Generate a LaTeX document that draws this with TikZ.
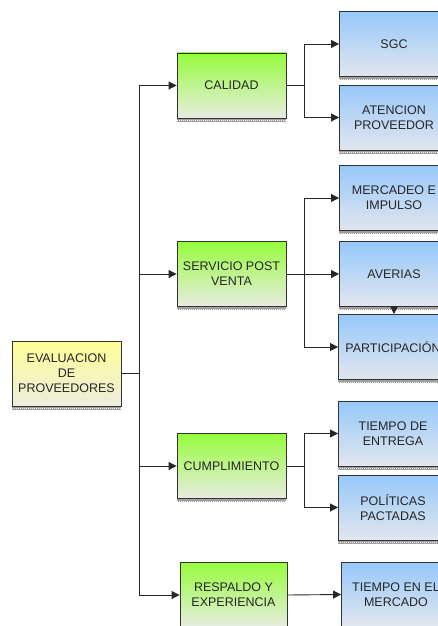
\documentclass[tikz,border=0pt]{standalone}
\usepackage{fontspec}
\setmainfont{Liberation Sans}
\usetikzlibrary{arrows.meta,math,positioning}

\definecolor{yeltop}{RGB}{255,255,150}
\definecolor{yelbot}{RGB}{236,236,222}
\definecolor{grntop}{RGB}{150,252,60}
\definecolor{grnbot}{RGB}{232,236,226}
\definecolor{blutop}{RGB}{150,200,250}
\definecolor{blubot}{RGB}{226,230,238}

\begin{document}
\begin{tikzpicture}[x=1pt,y=-1pt]

\tikzmath{
	\W = 109;
	\H = 65;
}

\tikzset{box/.style={
    draw=black!80, line width=0.9pt,
    minimum width=\W pt, minimum height=\H pt,
    align=center, inner sep=0pt,
    font=\fontsize{12.5}{15}\selectfont, text=black!85
  },
  rootbox/.style={box, top color=yeltop, bottom color=yelbot},
  mainbox/.style={box, top color=grntop, bottom color=grnbot},
  subbox/.style={box, top color=blutop, bottom color=blubot},
  conn/.style={draw=black!85, line width=0.9pt},
  arr/.style={conn, -{Triangle[length=8pt,width=8pt]}}
}

\useasboundingbox (0,0) rectangle (438,626);
\clip (0,0) rectangle (438,626);

% root
\node[rootbox] (eval) at (66.5,373.5) {EVALUACION\\DE\\PROVEEDORES};

% second level
\node[mainbox] (cal)  at (231.5,85.5) {CALIDAD};
\node[mainbox] (serv) at (231.5,274)  {SERVICIO POST\\VENTA};
\node[mainbox] (cump) at (231.5,466)  {CUMPLIMIENTO};
\node[mainbox, minimum width=107pt] (resp) at (233.5,595) {RESPALDO Y\\EXPERIENCIA};

% third level
\node[subbox] (sgc)  at (394,44)    {SGC};
\node[subbox] (aten) at (394,117.5) {ATENCION\\PROVEEDOR};
\node[subbox] (merc) at (394,198)   {MERCADEO E\\IMPULSO};
\node[subbox] (aver) at (394,274)   {AVERIAS};
\node[subbox] (part) at (393,347)   {PARTICIPACIÓN};
\node[subbox] (entr) at (393,433.5) {TIEMPO DE\\ENTREGA};
\node[subbox] (pol)  at (393,507.5) {POLÍTICAS\\PACTADAS};
\node[subbox] (tmer) at (396,594.5) {TIEMPO EN EL\\MERCADO};

% shadow strips
\foreach \n in {eval,cal,serv,cump,resp,sgc,aten,merc,aver,part,entr,pol,tmer}{
  \fill[gray!75] ([yshift=-0.5pt]\n.south west) rectangle ([yshift=-3.5pt]\n.south east);
  \draw[white!85!gray, line width=0.6pt, dash pattern=on 1pt off 1pt]
    ([yshift=-2pt]\n.south west) -- ([yshift=-2pt]\n.south east);
}

% trunk
\coordinate (tr) at (139,373.5);
\draw[conn] (eval.east) -- (tr);
\draw[arr] (tr) |- (cal.west);
\draw[arr] (tr) |- (serv.west);
\draw[arr] (tr) |- (cump.west);
\draw[arr] (tr) |- (resp.west);

% branches
\coordinate (bc) at (304,85.5);
\draw[conn] (cal.east) -- (bc);
\draw[arr] (bc) |- (sgc.west);
\draw[arr] (bc) |- (aten.west);

\coordinate (bs) at (304,274);
\draw[arr] (serv.east) -- (aver.west);
\draw[arr] (bs) |- (merc.west);
\draw[arr] (bs) |- (part.west);
\draw[arr] (aver.south) -- (aver.south |- part.north);

\coordinate (bm) at (304,466);
\draw[conn] (cump.east) -- (bm);
\draw[arr] (bm) |- (entr.west);
\draw[arr] (bm) |- (pol.west);

\draw[arr] (resp.east) -- (tmer.west);

\end{tikzpicture}
\end{document}
